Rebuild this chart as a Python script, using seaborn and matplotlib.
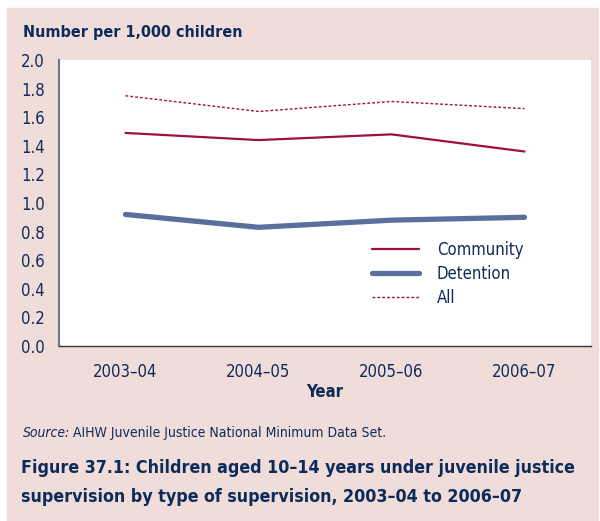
import numpy as np
import pandas as pd
import matplotlib
matplotlib.use("Agg")
import matplotlib.pyplot as plt
import seaborn as sns

years = ["2003–04", "2004–05", "2005–06", "2006–07"]
community = [1.49, 1.44, 1.48, 1.36]
detention = [0.92, 0.83, 0.88, 0.90]
all_types = [1.75, 1.64, 1.71, 1.66]

sns.set_style("white")
plt.rcParams['font.family'] = ['DejaVu Sans']
plt.rcParams['font.stretch'] = 'condensed'

navy = "#0d2b5a"
pink = "#f0dcd9"
red = "#a0103c"
blue = "#5a6f9b"

df = pd.DataFrame({
    "Year": years * 3,
    "x": list(range(4)) * 3,
    "value": community + detention + all_types,
    "series": ["Community"] * 4 + ["Detention"] * 4 + ["All"] * 4,
})

fig = plt.figure(figsize=(6.0, 5.21), dpi=100)
fig.patch.set_facecolor("white")
# pink background panel
fig.add_artist(plt.Rectangle((7 / 600, 0), 591 / 600, 513 / 521,
                             transform=fig.transFigure, color=pink, zorder=-10))

ax = fig.add_axes([59 / 600, 1 - 346 / 521, 532 / 600, 286 / 521])
ax.set_facecolor("white")

styles = {
    "Community": dict(color=red, lw=1.6, ls="-"),
    "Detention": dict(color=blue, lw=3.8, ls="-"),
    "All": dict(color=red, lw=1.0, ls=(0, (2, 1.5))),
}
for name in ["Community", "Detention", "All"]:
    sub = df[df["series"] == name]
    sns.lineplot(data=sub, x="x", y="value", ax=ax, label=name,
                 color=styles[name]["color"], linewidth=styles[name]["lw"],
                 linestyle=styles[name]["ls"])

ax.set_xlim(-0.5, 3.5)
ax.set_ylim(0, 2.0)
ax.set_yticks(np.arange(0, 2.01, 0.2))
ax.set_yticklabels([f"{v:.1f}" for v in np.arange(0, 2.01, 0.2)])
ax.set_xticks(range(4))
ax.set_xticklabels(years)
ax.tick_params(axis="both", colors=navy, labelsize=12, length=6, width=1,
               direction="out", labelcolor=navy)
ax.tick_params(axis="x", pad=6)
ax.tick_params(axis="y", pad=4)
for t in ax.get_xticklines() + ax.get_yticklines():
    t.set_color("#333333")
ax.set_xlabel("Year", fontsize=12, fontweight="bold", color=navy, labelpad=2)
ax.set_ylabel("")
for s in ["top", "right"]:
    ax.spines[s].set_visible(False)
ax.spines["left"].set_color("#6a7a94")
ax.spines["left"].set_linewidth(1.5)
ax.spines["bottom"].set_color("#333333")
ax.spines["bottom"].set_linewidth(1.0)

leg = ax.legend(loc="upper left", bbox_to_anchor=(0.56, 0.42), frameon=False,
                fontsize=12, handlelength=2.8, handletextpad=1.1,
                labelspacing=0.35)
for txt in leg.get_texts():
    txt.set_color(navy)

fig.text(23 / 600, 1 - 33 / 521, "Number per 1,000 children", fontsize=11.5,
         fontweight="bold", color=navy, va="center")
src = fig.text(23 / 600, 1 - 433 / 521, "Source:", fontsize=10, style="italic",
               color=navy, va="center")
fig.canvas.draw()
bb = src.get_window_extent()
fig.text((bb.x1 + 3) / 600, 1 - 433 / 521,
         "AIHW Juvenile Justice National Minimum Data Set.",
         fontsize=10, color=navy, va="center")
fig.text(21 / 600, 1 - 468 / 521,
         "Figure 37.1: Children aged 10–14 years under juvenile justice",
         fontsize=12.8, fontweight="bold", color=navy, va="center")
fig.text(21 / 600, 1 - 497 / 521,
         "supervision by type of supervision, 2003–04 to 2006–07",
         fontsize=12.8, fontweight="bold", color=navy, va="center")

fig.savefig("out.png", dpi=100, facecolor=fig.get_facecolor())
